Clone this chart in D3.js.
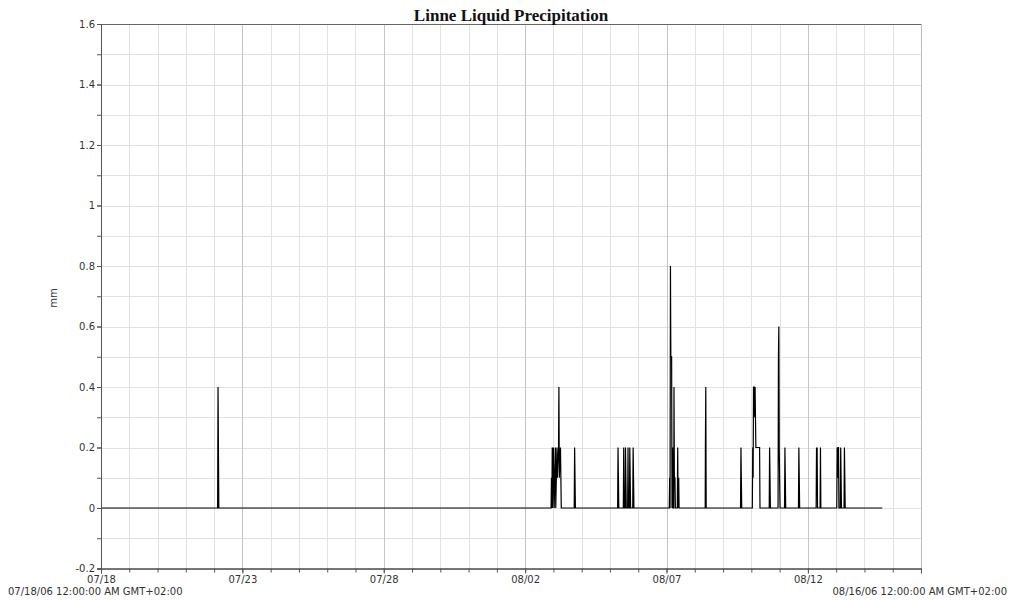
<!DOCTYPE html>
<html>
<head>
<meta charset="utf-8">
<script src="https://cdn.jsdelivr.net/npm/d3@7"></script>
<style>
  html, body { margin: 0; padding: 0; background: #fff; overflow: hidden; }
  svg { display: block; }
  text { font-family: "DejaVu Sans", sans-serif; }
</style>
</head>
<body>
<div id="chart"></div>
<script>
// readings (mm), time stamps are 2006, local time
const times = [
  "07/18 00:00",
  "07/22 03:00", "07/22 03:20", "07/22 03:40", "07/22 04:00",
  "08/02 22:00", "08/02 22:20", "08/02 22:40", "08/02 23:00", "08/02 23:20",
  "08/03 00:00", "08/03 00:20", "08/03 00:40", "08/03 01:40", "08/03 02:00",
  "08/03 03:00", "08/03 03:20", "08/03 04:20", "08/03 04:40", "08/03 05:00",
  "08/03 06:00", "08/03 06:20", "08/03 06:40",
  "08/03 17:40", "08/03 18:00", "08/03 18:20", "08/03 18:40",
  "08/05 06:30", "08/05 06:50", "08/05 07:10", "08/05 07:30",
  "08/05 11:20", "08/05 11:40", "08/05 12:00",
  "08/05 12:50", "08/05 13:10", "08/05 13:30", "08/05 13:50",
  "08/05 15:00", "08/05 15:20", "08/05 15:40",
  "08/05 16:30", "08/05 16:50", "08/05 17:10", "08/05 17:30",
  "08/05 19:20", "08/05 19:40", "08/05 20:00", "08/05 20:20",
  "08/07 02:20", "08/07 02:40", "08/07 03:00", "08/07 03:20", "08/07 03:40",
  "08/07 04:20", "08/07 04:40", "08/07 05:10", "08/07 05:30", "08/07 06:10",
  "08/07 06:20", "08/07 06:40", "08/07 07:10", "08/07 07:30",
  "08/07 09:10", "08/07 09:30", "08/07 09:50", "08/07 10:20", "08/07 10:40",
  "08/08 08:50", "08/08 09:00", "08/08 09:20", "08/08 09:40",
  "08/09 14:50", "08/09 15:10", "08/09 15:30", "08/09 15:50",
  "08/10 00:50", "08/10 01:10", "08/10 01:30", "08/10 01:50", "08/10 02:30",
  "08/10 02:50", "08/10 03:10", "08/10 03:30", "08/10 03:50", "08/10 07:00", "08/10 07:20",
  "08/10 15:10", "08/10 15:30", "08/10 15:50", "08/10 16:10",
  "08/10 22:40", "08/10 23:00", "08/10 23:20", "08/10 23:40", "08/11 00:00", "08/11 00:20",
  "08/11 04:10", "08/11 04:30", "08/11 04:50", "08/11 05:10",
  "08/11 16:00", "08/11 16:20", "08/11 16:40", "08/11 17:00",
  "08/12 07:00", "08/12 07:20", "08/12 07:40", "08/12 07:50", "08/12 08:10",
  "08/12 10:20", "08/12 10:40", "08/12 11:00",
  "08/13 00:30", "08/13 00:50", "08/13 01:10", "08/13 01:40", "08/13 02:00",
  "08/13 02:20", "08/13 03:30", "08/13 03:50", "08/13 04:10", "08/13 04:30",
  "08/13 06:40", "08/13 07:00", "08/13 07:20", "08/13 07:40",
  "08/14 15:10"
];
const values = [
  0,
  0, 0.4, 0.2, 0,
  0, 0.1, 0, 0.2, 0,
  0.2, 0.1, 0, 0.2, 0,
  0.2, 0.1, 0.2, 0.4, 0.1,
  0.2, 0.1, 0,
  0, 0.2, 0.1, 0,
  0, 0.2, 0.1, 0,
  0, 0.2, 0,
  0, 0.2, 0.1, 0,
  0, 0.2, 0,
  0, 0.2, 0.1, 0,
  0, 0.2, 0.1, 0,
  0, 0.1, 0, 0.8, 0.5,
  0.5, 0, 0.2, 0, 0,
  0.4, 0.1, 0.1, 0,
  0, 0.2, 0, 0.1, 0,
  0, 0.2, 0.4, 0,
  0, 0.2, 0.1, 0,
  0, 0.2, 0.1, 0.4, 0.4,
  0.3, 0.4, 0.3, 0.2, 0.2, 0,
  0, 0.2, 0.1, 0,
  0, 0.5, 0.6, 0.2, 0.1, 0,
  0, 0.2, 0.1, 0,
  0, 0.2, 0.1, 0,
  0, 0.2, 0.1, 0.2, 0,
  0, 0.2, 0,
  0, 0.2, 0.1, 0.2, 0.2,
  0, 0, 0.2, 0.1, 0,
  0, 0.2, 0.1, 0,
  0
];

const xDomain = ["07/18 00:00", "08/16 00:00"];
const xTickLabels = ["07/18", "07/23", "07/28", "08/02", "08/07", "08/12"];
const yTicks = [-0.2, 0, 0.2, 0.4, 0.6, 0.8, 1, 1.2, 1.4, 1.6];
const title = "Linne Liquid Precipitation";
const yLabel = "mm";
const startLabel = "07/18/06 12:00:00 AM GMT+02:00";
const endLabel = "08/16/06 12:00:00 AM GMT+02:00";

const width = 1011;
const height = 600;
const margin = { top: 24, right: 90, bottom: 31.5, left: 101 };
const innerWidth = width - margin.left - margin.right;
const innerHeight = height - margin.top - margin.bottom;

const parseTime = d3.timeParse("%Y/%m/%d %H:%M");
const toDate = s => parseTime("2006/" + s);
const data = times.map((t, i) => ({ date: toDate(t), value: values[i] }));

const svg = d3.select("#chart")
  .append("svg")
  .attr("width", width)
  .attr("height", height);

const g = svg.append("g")
  .attr("transform", "translate(" + margin.left + "," + margin.top + ")");

const xScale = d3.scaleTime()
  .domain(xDomain.map(toDate))
  .range([0, innerWidth]);

const yScale = d3.scaleLinear()
  .domain([-0.2, 1.6])
  .range([innerHeight, 0]);

const dayTicks = d3.timeDay.range(xScale.domain()[0], d3.timeDay.offset(xScale.domain()[1], 1));
const majorDates = xTickLabels.map(d => toDate(d + " 00:00"));
const yMinor = d3.range(-2, 17).map(d => d / 10);

// grid
g.append("g")
  .selectAll("line")
  .data(yMinor)
  .enter()
  .append("line")
  .attr("x1", 0)
  .attr("x2", innerWidth)
  .attr("y1", d => Math.round(yScale(d)) + 0.5)
  .attr("y2", d => Math.round(yScale(d)) + 0.5)
  .attr("stroke", "#e2e2e2");

g.append("g")
  .selectAll("line")
  .data(dayTicks)
  .enter()
  .append("line")
  .attr("x1", d => Math.round(xScale(d)) + 0.5)
  .attr("x2", d => Math.round(xScale(d)) + 0.5)
  .attr("y1", 0)
  .attr("y2", innerHeight)
  .attr("stroke", d => majorDates.some(m => +m === +d) ? "#c4c4c4" : "#e2e2e2");

// frame
g.append("rect")
  .attr("x", 0.5)
  .attr("y", 0.5)
  .attr("width", innerWidth)
  .attr("height", innerHeight)
  .attr("fill", "none")
  .attr("stroke", "#bbb");

g.append("line")
  .attr("x1", 0).attr("x2", innerWidth)
  .attr("y1", 0.5).attr("y2", 0.5)
  .attr("stroke", "#666");

// data line
const lineGenerator = d3.line()
  .x(d => xScale(d.date))
  .y(d => yScale(d.value));

g.append("path")
  .datum(data)
  .attr("d", lineGenerator)
  .attr("fill", "none")
  .attr("stroke", "#000")
  .attr("stroke-width", 1.2);

// axes
const xAxisMinor = d3.axisBottom(xScale)
  .tickValues(dayTicks)
  .tickSize(4)
  .tickFormat("");

const xAxis = d3.axisBottom(xScale)
  .tickValues(majorDates)
  .tickSize(5)
  .tickPadding(2)
  .tickFormat((d, i) => xTickLabels[i]);

const yAxisMinor = d3.axisLeft(yScale)
  .tickValues(yMinor)
  .tickSize(4)
  .tickFormat("");

const yAxis = d3.axisLeft(yScale)
  .tickValues(yTicks)
  .tickSize(4)
  .tickPadding(2)
  .tickFormat(d => String(+d.toFixed(1)));

const xMinorGroup = g.append("g")
  .attr("transform", "translate(0," + innerHeight + ")")
  .call(xAxisMinor);

const xAxisGroup = g.append("g")
  .attr("transform", "translate(0," + innerHeight + ")")
  .call(xAxis);

const yMinorGroup = g.append("g").call(yAxisMinor);
const yAxisGroup = g.append("g").call(yAxis);

// minor axes carry no labels
xMinorGroup.selectAll("text").remove();
yMinorGroup.selectAll("text").remove();

[xMinorGroup, xAxisGroup, yMinorGroup, yAxisGroup].forEach(a => {
  a.select(".domain").attr("stroke", "#555");
  a.selectAll(".tick line").attr("stroke", "#555");
  a.selectAll("text")
    .attr("fill", "#333")
    .style("font-size", "10px")
    .style("font-family", "'DejaVu Sans', sans-serif");
});

// titles
svg.append("text")
  .attr("x", margin.left + innerWidth / 2)
  .attr("y", 21)
  .attr("text-anchor", "middle")
  .style("font-family", "'Liberation Serif', serif")
  .style("font-weight", "bold")
  .style("font-size", "17px")
  .attr("fill", "#111")
  .text(title);

svg.append("text")
  .attr("transform", "translate(57,298) rotate(-90)")
  .attr("text-anchor", "middle")
  .style("font-size", "10px")
  .attr("fill", "#333")
  .text(yLabel);

svg.append("text")
  .attr("x", 8)
  .attr("y", 595)
  .style("font-size", "10px")
  .attr("fill", "#333")
  .text(startLabel);

svg.append("text")
  .attr("x", 1007)
  .attr("y", 595)
  .attr("text-anchor", "end")
  .style("font-size", "10px")
  .attr("fill", "#333")
  .text(endLabel);
</script>
</body>
</html>
